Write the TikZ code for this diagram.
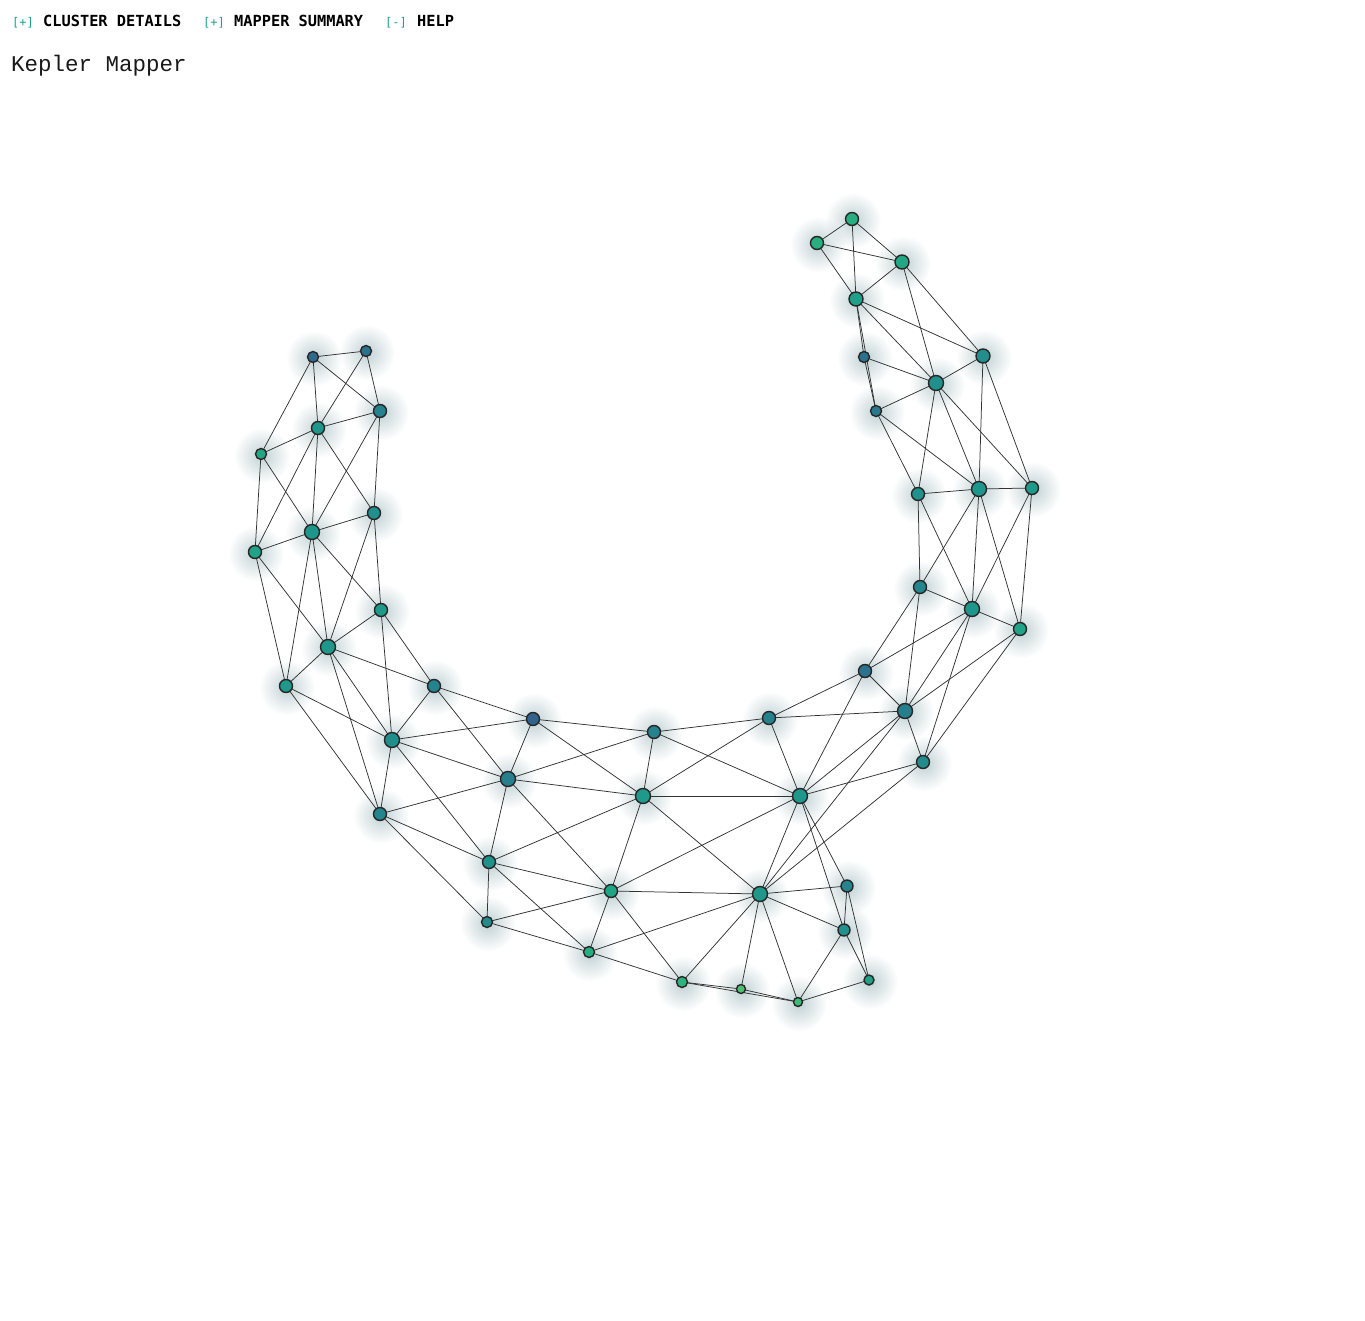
\documentclass[tikz,border=0pt]{standalone}
\usepackage{fontspec}
\usetikzlibrary{fadings}
\newfontfamily\hdrfont{DejaVu Sans Mono}
\newfontfamily\ttlfont{Liberation Mono}
\definecolor{brk}{HTML}{1FA08F}
\definecolor{edgec}{HTML}{333333}
\definecolor{glowc}{HTML}{3E6F78}
\tikzfading[name=glowfade, inner color=transparent!0, outer color=transparent!100]
\pgfdeclarelayer{glow}
\pgfdeclarelayer{edges}
\pgfsetlayers{glow,edges,main}
\tikzset{
  kn/.style={circle, draw=black!85, line width=1.4pt, inner sep=0pt, minimum size=#1},
  ed/.style={draw=edgec, line width=0.75pt},
  hdr/.style={anchor=base west, inner sep=0pt, font=\hdrfont\bfseries\fontsize{15.3}{16}\selectfont},
  brkt/.style={anchor=base west, inner sep=0pt, text=brk, font=\hdrfont\fontsize{12}{13}\selectfont},
  ttl/.style={anchor=base west, inner sep=0pt, text=black!90, font=\ttlfont\fontsize{22.5}{24}\selectfont}
}
\begin{document}
\begin{tikzpicture}[x=1pt,y=-1pt]
\useasboundingbox (0,0) rectangle (1365,1321);
\node[brkt] (b1) at (12,27) {[+]};
\node[hdr] (h1) at (43,27) {CLUSTER DETAILS};
\node[brkt] (b2) at (203,27) {[+]};
\node[hdr] (h2) at (234,27) {MAPPER SUMMARY};
\node[brkt] (b3) at (385,27) {[-]};
\node[hdr] (h3) at (417,27) {HELP};
\node[ttl] (title) at (11,72) {Kepler Mapper};
\foreach \n/\x/\y/\r/\c in {
 L1/313/357/5/31688E, L2/366/351/5/2C728E, L3/380/411/6/26828E, L4/318/428/6/1F958B,
 L5/261/454/5/22A785, L6/374/513/6/21908D, L7/312/532/7/1F968B, L8/255/552/6/20A386,
 L9/381/610/6/1F9A8A, L10/328/647/7/1F988B, L11/286/686/6/1F9A8A, L12/434/686/6/26828E,
 L13/392/740/7/208F8C, L14/533/719/6/33638D, L15/508/779/7/277F8E, L16/380/814/6/25858E,
 M1/654/732/6/26828E, M2/643/796/7/1F9A8A, M3/489/862/6/21918C, M4/487/922/5/228C8D,
 M5/611/891/6/20A486, M6/589/952/5/27AD81, M7/682/982/5/2EB37C, M8/741/989/4/4AC16D,
 M9/798/1002/4/3BBB75,
 R1/769/718/6/26818E, R2/800/796/7/1F988B, R3/760/894/7/1F988B, R4/847/886/5.5/25848E,
 R5/844/930/5.5/21918C, R6/869/980/4.5/1FA187, R7/865/671/6/2C728E, R8/905/711/7/277F8E,
 R9/923/762/6/228C8D, R10/920/587/6/25858E, R11/972/609/7/1F968B, R12/1020/629/6/20A386,
 R13/918/494/6/21918C, R14/979/489/7/1F968B, R15/1032/488/6/1F9A8A, R16/864/357/5/2C728E,
 R17/876/411/5/2A788E, R18/936/383/7/21908D, R19/983/356/6.5/21908D, R20/856/299/6.5/1FA088,
 R21/902/262/6.5/22A785, R22/817/243/6/29AF7F, R23/852/219/6/27AD81}
{
  \definecolor{tmpc}{HTML}{\c}
  \node[kn=2*\r pt+1pt, fill=tmpc] (\n) at (\x,\y) {};
  \begin{pgfonlayer}{glow}
    \fill[glowc, fill opacity=0.32, path fading=glowfade] (\x+1,\y+1.5) circle (28);
  \end{pgfonlayer}
}
\begin{pgfonlayer}{edges}
\foreach \a/\b in {
 L1/L2, L1/L3, L1/L4, L1/L5, L2/L4, L2/L3, L3/L4, L3/L7, L3/L6,
 L4/L5, L4/L7, L4/L8, L4/L6, L5/L8, L5/L7, L6/L7, L6/L9, L6/L10,
 L7/L8, L7/L9, L7/L10, L7/L11, L8/L11, L8/L10, L9/L10, L9/L13, L9/L12,
 L10/L11, L10/L12, L10/L13, L10/L16, L11/L13, L11/L16,
 L12/L13, L12/L15, L12/L14, L13/L14, L13/L15, L13/L16, L13/M3,
 L14/M1, L14/L15, L14/M2, L15/L16, L15/M3, L15/M5, L15/M2, L15/M1,
 L16/M3, L16/M4, M1/M2, M1/R1, M1/R2, M2/R1, M2/R2, M2/M3, M2/M5, M2/R3,
 M3/M4, M3/M5, M3/M6, M4/M5, M4/M6, M5/M6, M5/M7, M5/R3, M5/R2,
 M6/M7, M6/R3, M7/R3, M7/M8, M7/M9, M8/R3, M8/M9, M9/R3, M9/R5, M9/R6,
 R1/R2, R1/R7, R1/R8, R2/R3, R2/R4, R2/R5, R2/R7, R2/R8, R2/R9,
 R3/R4, R3/R5, R3/R8, R3/R9, R4/R5, R4/R6, R5/R6,
 R7/R8, R7/R10, R7/R11, R8/R9, R8/R10, R8/R11, R8/R12, R9/R11, R9/R12,
 R10/R11, R10/R13, R10/R14, R11/R12, R11/R13, R11/R14, R11/R15,
 R12/R14, R12/R15, R13/R14, R13/R17, R13/R18,
 R14/R15, R14/R17, R14/R18, R14/R19, R15/R18, R15/R19,
 R16/R17, R16/R18, R16/R20, R17/R18, R17/R20,
 R18/R19, R18/R20, R18/R21, R19/R20, R19/R21,
 R20/R21, R20/R22, R20/R23, R21/R22, R21/R23, R22/R23}
{ \draw[ed] (\a.center) -- (\b.center); }
\end{pgfonlayer}
\end{tikzpicture}
\end{document}
